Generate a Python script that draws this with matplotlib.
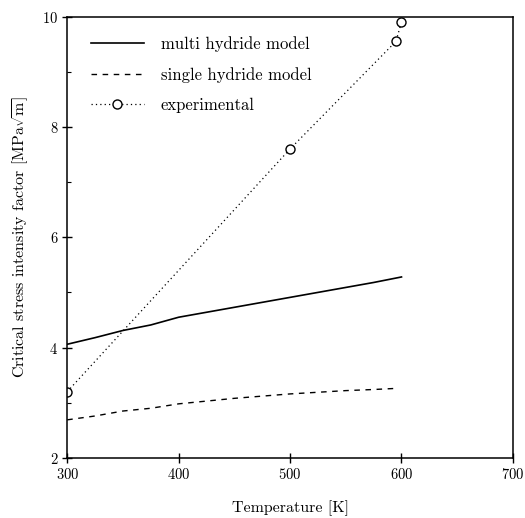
import matplotlib
matplotlib.use("Agg")
import matplotlib.pyplot as plt
from matplotlib.ticker import MultipleLocator

plt.rcParams['font.family'] = ['cmr10', 'DejaVu Serif']
plt.rcParams['mathtext.fontset'] = 'cm'
plt.rcParams['axes.formatter.use_mathtext'] = True

# Temperature [K] and critical stress intensity factor [MPa sqrt(m)]
multi_T = [300, 325, 350, 375, 400, 425, 450, 475, 500, 525, 550, 575, 600]
multi_K = [4.06, 4.18, 4.31, 4.41, 4.55, 4.64, 4.73, 4.82, 4.91, 5.00, 5.09, 5.18, 5.28]

single_T = [300, 325, 350, 375, 400, 425, 450, 475, 500, 525, 550, 575, 595]
single_K = [2.69, 2.76, 2.85, 2.90, 2.98, 3.03, 3.08, 3.12, 3.16, 3.19, 3.22, 3.24, 3.26]

exp_T = [300, 500, 595, 600]
exp_K = [3.2, 7.6, 9.55, 9.9]

fig = plt.figure(figsize=(5.25, 5.18), dpi=100)
ax = fig.add_axes([0.128, 0.116, 0.849, 0.852])

ax.plot(multi_T, multi_K, color='black', lw=1.2, label='multi hydride model')
ax.plot(single_T, single_K, color='black', lw=1.0, ls=(0, (4, 4)),
        label='single hydride model')
ax.plot(exp_T, exp_K, color='black', lw=0.9, ls=(0, (1, 2.5)),
        marker='o', markersize=6.5, markerfacecolor='white',
        markeredgecolor='black', markeredgewidth=1.0, label='experimental')

ax.set_xlim(300, 700)
ax.set_ylim(2, 10)
ax.xaxis.set_major_locator(MultipleLocator(100))
ax.yaxis.set_major_locator(MultipleLocator(2))
ax.yaxis.set_minor_locator(MultipleLocator(1))

ax.tick_params(which='major', direction='inout', length=7, width=1.0,
               labelsize=10.5, pad=3)
ax.tick_params(which='minor', direction='in', length=3, width=0.8)
for s in ax.spines.values():
    s.set_linewidth(1.1)

ax.set_xlabel('Temperature [K]', fontsize=11.5, labelpad=13)
ax.set_ylabel(r'Critical stress intensity factor [MPa$\sqrt{\mathrm{m}}$]',
              fontsize=11.5, labelpad=8)

ax.legend(loc='upper left', frameon=False, fontsize=12,
          handlelength=3.2, handletextpad=1.0, labelspacing=0.9,
          bbox_to_anchor=(0.0, 1.008), borderaxespad=1.0)

fig.savefig('out.png', dpi=100)
